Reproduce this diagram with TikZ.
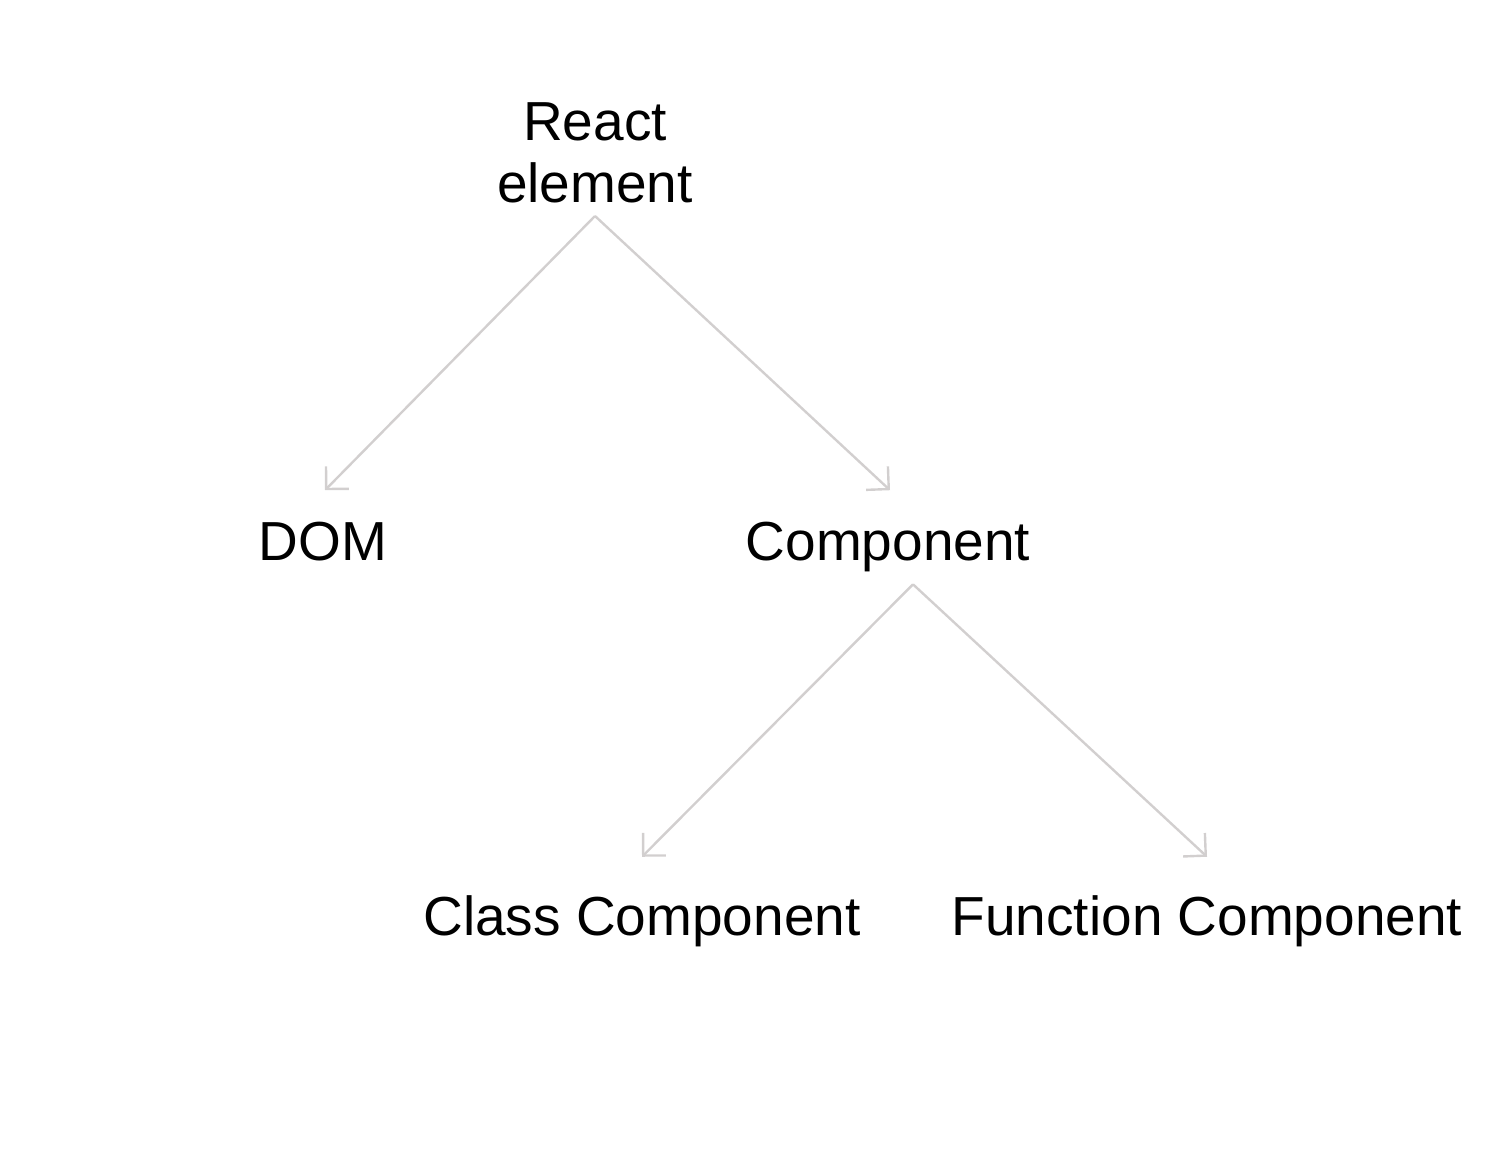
\documentclass[tikz,border=0pt]{standalone}
\usepackage{fontspec}
\setmainfont{Liberation Sans}
\usetikzlibrary{arrows.meta}
\definecolor{edgegray}{RGB}{210,207,207}

\begin{document}
\begin{tikzpicture}[x=0.5pt,y=-0.5pt]
          \tikzstyle{word} = [inner sep=0pt, align=center,
            font=\fontsize{27.5}{31}\selectfont]
          \tikzstyle{line} = [draw, edgegray, line width=1.2pt,
            -{Straight Barb[length=8pt,width=16pt]}]

          \useasboundingbox (0,0) rectangle (1490,1152);

          \node(ReactElement)[word, anchor=south] at (595,203) {React\\element};

          \node(DOM)[word, anchor=base] at (323,560) {DOM};
          \node(Component)[word, anchor=base] at (888,560) {Component};

          \node(ClassComponent)[word, anchor=base] at (642,935) {Class Component};
          \node(FunctionComponent)[word, anchor=base] at (1207,935) {Function Component};

          \draw[line] ([yshift=-6.5pt]ReactElement.south) -- ([xshift=1pt,yshift=15.5pt]DOM.north);
          \draw[line] ([yshift=-6.5pt]ReactElement.south) -- ([xshift=1pt,yshift=15.5pt]Component.north);

          \draw[line] ([xshift=12.5pt,yshift=-6.25pt]Component.south) -- ([yshift=19pt]ClassComponent.north);
          \draw[line] ([xshift=12.5pt,yshift=-6.25pt]Component.south) -- ([yshift=19pt]FunctionComponent.north);
        \end{tikzpicture}
\end{document}
